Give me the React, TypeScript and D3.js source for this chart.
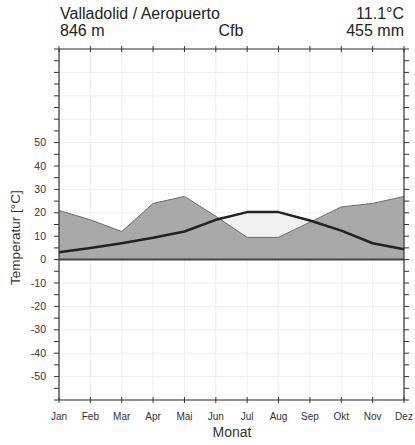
import React from "react";
import * as d3 from "d3";

const months = ["Jan", "Feb", "Mar", "Apr", "Mai", "Jun", "Jul", "Aug", "Sep", "Okt", "Nov", "Dez"];
const temperature = [3.1, 5.0, 7.0, 9.3, 12.0, 17.0, 20.3, 20.3, 16.7, 12.4, 7.0, 4.4];
const precipitation = [42, 34, 24, 48, 54, 37, 19, 19, 32, 45, 48, 54];
const yTickLabels = [50, 40, 30, 20, 10, 0, -10, -20, -30, -40, -50];
const titleLeft = "Valladolid / Aeropuerto";
const elevation = "846 m";
const climateClass = "Cfb";
const meanTemp = "11.1°C";
const totalPrecip = "455 mm";

const W = 415, H = 445;
const L = 59, R = 404, T = 49, B = 400;

export default function App() {
  const x = d3.scaleLinear().domain([0, 11]).range([L, R]);
  const y = d3.scaleLinear().domain([-60, 90]).range([B, T]);
  const p = precipitation.map((v) => v / 2);
  const idx = d3.range(12);

  const precipArea = d3.area<number>().x((i) => x(i)).y0(y(0)).y1((i) => y(p[i]))(idx) || "";
  const aboveprecip = d3.area<number>().x((i) => x(i)).y0(T).y1((i) => y(p[i]))(idx) || "";
  const precipLine = d3.line<number>().x((i) => x(i)).y((i) => y(p[i]))(idx) || "";
  const tempLine = d3.line<number>().x((i) => x(i)).y((i) => y(temperature[i]))(idx) || "";
  const aridArea = d3
    .area<number>()
    .x((i) => x(i))
    .y0((i) => y(p[i]))
    .y1((i) => y(temperature[i]))(idx) || "";

  const minorTicks = d3.range(-60, 91, 5);
  const gridY = d3.range(-60, 91, 10);

  return (
    <svg width={W} height={H} style={{ position: "absolute", left: 0, top: 0, background: "#fff" }}
      fontFamily="'Liberation Sans', Arial, sans-serif">
      <defs>
        <clipPath id="abovePrecip">
          <path d={aboveprecip} />
        </clipPath>
      </defs>
      <rect x={0} y={0} width={W} height={H} fill="#fff" />
      {gridY.map((v) => (
        <line key={"gy" + v} x1={L} x2={R} y1={y(v)} y2={y(v)} stroke="#eeeeee" strokeWidth={1} />
      ))}
      {idx.map((i) => (
        <line key={"gx" + i} x1={x(i)} x2={x(i)} y1={T} y2={B} stroke="#eeeeee" strokeWidth={1} />
      ))}
      <path d={precipArea} fill="#a9a9a9" stroke="none" />
      <path d={aridArea} fill="#f1f1f1" stroke="none" clipPath="url(#abovePrecip)" />
      <path d={precipLine} fill="none" stroke="#6a6a6a" strokeWidth={1} />
      <line x1={L} x2={R} y1={y(0)} y2={y(0)} stroke="#444" strokeWidth={2} />
      <path d={tempLine} fill="none" stroke="#222" strokeWidth={2.5} strokeLinejoin="round" />
      <line x1={L} x2={R} y1={T} y2={T} stroke="#333" strokeWidth={1.2} />
      <line x1={L} x2={R} y1={B} y2={B} stroke="#333" strokeWidth={1.2} />
      <line x1={L} x2={L} y1={T} y2={B} stroke="#333" strokeWidth={1.2} />
      <line x1={R} x2={R} y1={T} y2={B} stroke="#333" strokeWidth={1.2} />
      {idx.map((i) => (
        <g key={"xt" + i}>
          <line x1={x(i)} x2={x(i)} y1={T - 3} y2={T + 3} stroke="#333" />
          <line x1={x(i)} x2={x(i)} y1={B - 3} y2={B + 3} stroke="#333" />
          <text x={x(i)} y={420} fontSize={10} textAnchor="middle" fill="#333">{months[i]}</text>
        </g>
      ))}
      {minorTicks.map((v) => (
        <g key={"yt" + v}>
          <line x1={L - 5} x2={L} y1={y(v)} y2={y(v)} stroke="#333" />
          <line x1={R} x2={R + 5} y1={y(v)} y2={y(v)} stroke="#333" />
        </g>
      ))}
      {yTickLabels.map((v) => (
        <text key={"yl" + v} x={46} y={y(v) + 3.5} fontSize={10.5} textAnchor="end" fill="#333">{v}</text>
      ))}
      <text x={60} y={19} fontSize={16} fill="#222">{titleLeft}</text>
      <text x={60} y={36} fontSize={16} fill="#222">{elevation}</text>
      <text x={231} y={36} fontSize={16} fill="#222" textAnchor="middle">{climateClass}</text>
      <text x={404} y={19} fontSize={16} fill="#222" textAnchor="end">{meanTemp}</text>
      <text x={404} y={36} fontSize={16} fill="#222" textAnchor="end">{totalPrecip}</text>
      <text x={232} y={437} fontSize={14} fill="#333" textAnchor="middle">Monat</text>
      <text transform={`translate(20,${y(0) - 22}) rotate(-90)`} fontSize={13.5} fill="#333" textAnchor="middle">Temperatur [°C]</text>
    </svg>
  );
}
